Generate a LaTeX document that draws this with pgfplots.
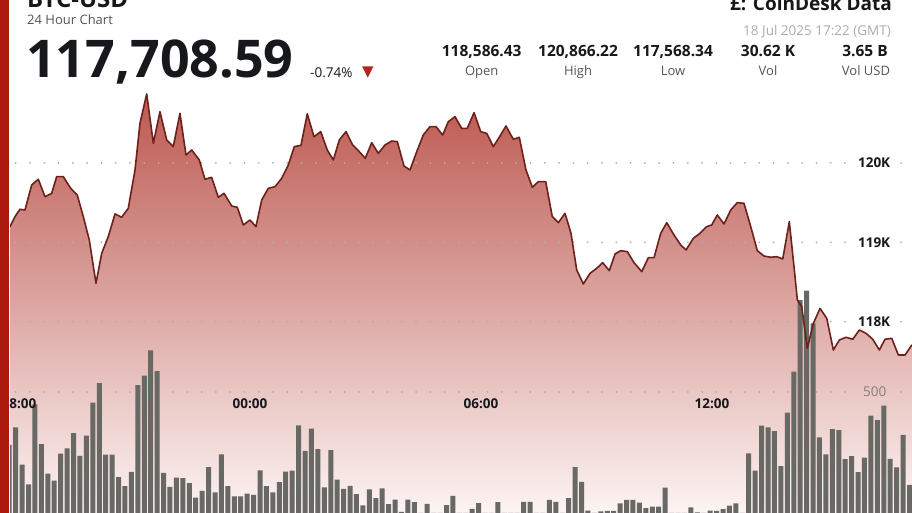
\documentclass[border=0pt]{standalone}
\usepackage{pgfplots}
\pgfplotsset{compat=1.18}
\usepackage{pgfplotstable}
\usepackage{fontspec}
\setmainfont{Open Sans}
\newfontfamily\dejavu{DejaVu Sans}
\definecolor{lineC}{RGB}{110,32,26}
\definecolor{topC}{RGB}{188,88,80}
\definecolor{botC}{RGB}{252,244,243}
\definecolor{barC}{RGB}{104,104,100}
\definecolor{gridC}{RGB}{175,175,175}
\definecolor{redbar}{RGB}{170,24,14}
\definecolor{tri}{RGB}{180,36,28}
\definecolor{darktext}{RGB}{22,24,28}
\definecolor{subtext}{RGB}{85,85,85}

\pgfplotstableread{
m price
-13.8 119197
-6.1 119323
1.7 119416
9.5 119407
19.9 119722
30.2 119794
40.6 119575
51.0 119617
58.8 119827
69.1 119827
80.6 119680
90.8 119596
100.2 119323
109.5 119029
119.9 118483
128.8 118861
139.0 119071
149.5 119357
159.9 119315
170.1 119428
180.6 119911
188.3 120499
198.8 120870
209.1 120247
219.4 120646
229.9 120289
240.1 120205
250.5 120625
259.9 120100
268.7 120163
280.6 120037
289.4 119794
299.8 119819
310.1 119567
319.0 119617
331.0 119457
339.7 119441
349.0 119218
359.4 119281
368.7 119197
377.6 119533
387.9 119680
398.3 119701
408.7 119806
419.0 119974
428.3 120205
438.7 120222
448.5 120619
458.9 120331
469.4 120394
479.6 120163
489.0 120037
498.3 120289
508.7 120394
519.1 120226
529.4 120142
538.7 120058
548.7 120255
558.9 120121
569.4 120226
579.8 120276
588.5 120268
598.9 119961
608.3 119911
618.7 120142
628.9 120352
639.3 120457
648.7 120457
659.1 120352
667.8 120520
678.2 120583
688.6 120436
697.3 120436
707.8 120633
718.2 120394
727.5 120373
737.8 120205
748.2 120339
757.5 120465
768.9 120298
778.2 120323
788.6 119911
798.5 119693
807.8 119764
819.3 119764
829.5 119323
838.9 119247
849.3 119365
858.6 119113
867.5 118651
877.8 118475
888.2 118609
898.6 118672
907.9 118743
918.2 118642
927.1 118853
935.9 118894
946.2 118882
956.6 118743
968.6 118630
978.9 118806
987.7 118806
998.1 119113
1007.5 119247
1018.8 119092
1029.2 118966
1037.5 118903
1048.8 119050
1059.2 119113
1069.6 119197
1077.4 119218
1086.1 119344
1096.5 119231
1107.0 119407
1117.2 119499
1127.6 119491
1138.1 119197
1148.3 118894
1158.8 118827
1169.2 118811
1178.5 118819
1187.9 118790
1198.1 119260
1205.4 118693
1210.6 118273
1217.4 118189
1226.1 117664
1235.5 117979
1245.9 118168
1256.3 118042
1266.6 117643
1275.9 117769
1286.3 117803
1296.7 117778
1307.0 117895
1317.4 117853
1327.8 117778
1338.1 117643
1346.9 117778
1357.4 117790
1367.6 117580
1378.1 117580
1388.9 117709
}\pricedata

\pgfplotstableread{
m vol
-15 325
-5 383
5 260
15 195
25 459
35 328
45 230
55 207
65 296
75 314
85 364
95 289
105 356
115 465
125 529
135 293
145 293
155 219
165 189
175 236
185 523
195 554
205 638
215 569
225 233
235 186
245 217
255 215
265 199
275 151
285 173
295 252
305 168
315 294
325 189
335 155
345 155
355 164
365 160
375 241
385 189
395 168
405 202
415 237
425 240
435 390
445 305
455 379
465 311
475 185
485 308
495 210
505 180
515 190
525 162
535 125
545 178
555 149
565 181
575 129
585 144
595 104
605 144
615 136
625 80
635 130
645 85
655 75
665 126
675 157
685 80
695 70
705 114
715 133
725 80
735 75
745 136
755 80
765 70
775 85
785 137
795 137
805 80
815 90
825 143
835 137
845 85
855 149
865 252
875 203
885 108
895 80
905 105
915 107
925 107
935 132
945 143
955 143
965 134
975 116
985 121
995 121
1005 184
1015 80
1025 75
1035 85
1045 119
1055 102
1065 85
1075 108
1085 107
1095 113
1105 124
1115 132
1125 90
1135 297
1145 240
1155 389
1165 383
1175 371
1185 255
1195 432
1205 567
1215 804
1225 835
1235 727
1245 350
1255 294
1265 377
1275 374
1285 278
1295 288
1305 235
1315 283
1325 422
1335 407
1345 455
1355 279
1365 251
1375 358
1385 193
}\voldata

\begin{document}
\begin{tikzpicture}[x=1pt,y=1pt]
\path[use as bounding box] (0,0) rectangle (912,513);
\fill[white] (0,0) rectangle (912,513);
\pgfplotsset{base/.style={at={(10pt,0pt)}, anchor=south west, scale only axis,
  width=902pt, height=513pt, xmin=-13.8, xmax=1388.9, hide axis, clip=true}}
\tikzset{gdots/.style={gridC, line width=2pt, line cap=round, dash pattern=on 0pt off 14.3pt}}
% price area
\begin{axis}[base, ymin=115589, ymax=122053]
\addplot[draw=none, top color=topC, bottom color=botC] table[x=m,y=price]{\pricedata}
  -- (axis cs:1388.9,115589) -- (axis cs:-13.8,115589) -- cycle;
\draw[gdots] (axis cs:-5,120000) -- (axis cs:1290,120000);
\draw[gdots] (axis cs:1372,120000) -- (axis cs:1388.9,120000);
\draw[gdots] (axis cs:-5,119000) -- (axis cs:1290,119000);
\draw[gdots] (axis cs:1372,119000) -- (axis cs:1388.9,119000);
\draw[gdots] (axis cs:-5,118000) -- (axis cs:1290,118000);
\draw[gdots] (axis cs:1372,118000) -- (axis cs:1388.9,118000);
\end{axis}
% volume bars
\begin{axis}[base, ymin=100, ymax=1796]
\draw[gdots] (axis cs:-5,500) -- (axis cs:1300,500);
\draw[gdots] (axis cs:1372,500) -- (axis cs:1388.9,500);
\addplot[ybar, bar width=5pt, fill=barC, draw=none] table[x=m,y=vol]{\voldata};
\node[font=\fontsize{13.5}{14}\selectfont, text=black!50] at (axis cs:1331,500) {500};
\end{axis}
% price line
\begin{axis}[base, ymin=115589, ymax=122053]
\addplot[lineC, line width=1.6pt, line join=round] table[x=m,y=price]{\pricedata};
\node[font=\bfseries\fontsize{13.5}{14}\selectfont, text=darktext] at (axis cs:1330,120000) {120K};
\node[font=\bfseries\fontsize{13.5}{14}\selectfont, text=darktext] at (axis cs:1330,119000) {119K};
\node[font=\bfseries\fontsize{13.5}{14}\selectfont, text=darktext] at (axis cs:1330,118000) {118K};
\end{axis}
% time labels
\begin{scope}[every node/.style={font=\bfseries\fontsize{13.5}{14}\selectfont, text=darktext}]
\node at (19,109) {18:00};
\node at (250,109) {00:00};
\node at (481,109) {06:00};
\node at (712,109) {12:00};
\end{scope}
% header
\node[anchor=base west, inner sep=0, font=\bfseries\fontsize{24}{26}\selectfont, text=darktext] at (27,505.5) {BTC-USD};
\node[anchor=base west, inner sep=0, font=\fontsize{13}{14}\selectfont, text=subtext] at (27,488.5) {24 Hour Chart};
\node[anchor=base west, inner sep=0, font=\bfseries\fontsize{52}{54}\selectfont, text=darktext] at (26,435) {117,708.59};
\node[anchor=base west, inner sep=0, font=\fontsize{13.5}{14}\selectfont, text=darktext] at (310,435.5) {-0.74\%};
\node[anchor=base west, inner sep=0, font=\dejavu\fontsize{15}{16}\selectfont, text=tri] at (362,436) {▼};
% right header
\node[anchor=base east, inner sep=0, font=\bfseries\fontsize{19}{20}\selectfont, text=darktext] at (892,502) {£: CoinDesk Data};
\node[anchor=base east, inner sep=0, font=\fontsize{13.5}{14}\selectfont, text=black!32] at (891,477) {18 Jul 2025 17:22 (GMT)};
\begin{scope}[every node/.style={inner sep=0, anchor=base, font=\bfseries\fontsize{15.5}{16}\selectfont, text=darktext}]
\node at (481.7,456) {118,586.43};
\node at (578,456) {120,866.22};
\node at (673,456) {117,568.34};
\node at (768,456) {30.62 K};
\node at (865,456) {3.65 B};
\end{scope}
\begin{scope}[every node/.style={inner sep=0, anchor=base, font=\fontsize{13}{14}\selectfont, text=subtext}]
\node at (481.7,437.5) {Open};
\node at (578,437.5) {High};
\node at (673,437.5) {Low};
\node at (768,437.5) {Vol};
\node at (866,437.5) {Vol USD};
\end{scope}
\fill[redbar] (0,0) rectangle (8.5,513);
\end{tikzpicture}
\end{document}
